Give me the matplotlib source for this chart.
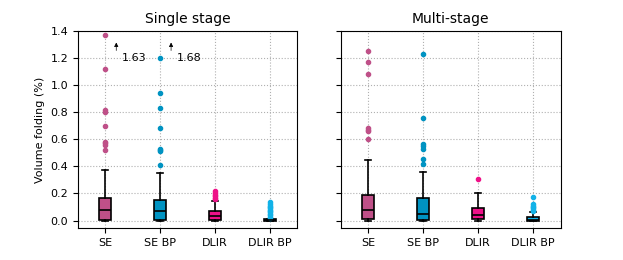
import matplotlib
matplotlib.use("Agg")
import matplotlib.pyplot as plt

methods = ["SE", "SE BP", "DLIR", "DLIR BP"]
colors = ["#bf5088", "#0093c2", "#ee1188", "#12b2e8"]

# box statistics (volume folding, %)
single_q1 = [0.005, 0.005, 0.003, 0.0]
single_med = [0.075, 0.067, 0.032, 0.003]
single_q3 = [0.165, 0.155, 0.068, 0.01]
single_whishi = [0.37, 0.35, 0.148, 0.015]
single_fliers = [
    [1.37, 1.12, 0.82, 0.80, 0.70, 0.58, 0.57, 0.56, 0.52],
    [1.20, 0.94, 0.83, 0.68, 0.53, 0.52, 0.51, 0.41],
    [0.22, 0.20, 0.19, 0.18, 0.17, 0.16],
    [0.135, 0.12, 0.11, 0.10, 0.09, 0.08, 0.07, 0.06, 0.05, 0.04, 0.03, 0.02],
]
single_off = [1.63, 1.68]

multi_q1 = [0.01, 0.005, 0.01, 0.0]
multi_med = [0.075, 0.047, 0.04, 0.005]
multi_q3 = [0.19, 0.17, 0.096, 0.027]
multi_whishi = [0.445, 0.36, 0.2, 0.066]
multi_fliers = [
    [1.25, 1.17, 1.08, 0.68, 0.67, 0.66, 0.60],
    [1.23, 0.755, 0.565, 0.55, 0.53, 0.455, 0.42],
    [0.31],
    [0.175, 0.12, 0.11, 0.10, 0.09, 0.08, 0.07],
]


def make_stats(q1, med, q3, whishi, fliers):
    stats = []
    for i in range(len(methods)):
        stats.append(dict(med=med[i], q1=q1[i], q3=q3[i], whislo=0.0,
                          whishi=whishi[i], fliers=fliers[i], label=methods[i]))
    return stats


fig = plt.figure(figsize=(6.23, 2.6), dpi=100)
ax1 = fig.add_axes([0.125, 0.123, 0.352, 0.758])
ax2 = fig.add_axes([0.547, 0.123, 0.353, 0.758], sharey=ax1)

panels = [
    (ax1, make_stats(single_q1, single_med, single_q3, single_whishi, single_fliers), "Single stage"),
    (ax2, make_stats(multi_q1, multi_med, multi_q3, multi_whishi, multi_fliers), "Multi-stage"),
]

for ax, stats, title in panels:
    bp = ax.bxp(stats, widths=0.22, patch_artist=True,
                medianprops=dict(color="black", linewidth=1.2),
                whiskerprops=dict(color="black", linewidth=1.2),
                capprops=dict(color="black", linewidth=1.2),
                boxprops=dict(edgecolor="black", linewidth=1.2))
    for patch, c in zip(bp["boxes"], colors):
        patch.set_facecolor(c)
    for fl, c in zip(bp["fliers"], colors):
        fl.set(marker="o", markersize=3, markerfacecolor=c, markeredgecolor=c)
    ax.set_title(title, fontsize=10)
    ax.grid(True, linestyle=":", color="#b0b0b0", linewidth=0.8)
    ax.set_axisbelow(True)
    ax.tick_params(labelsize=8)

ax1.set_ylim(-0.055, 1.4)
ax1.set_yticks([0.0, 0.2, 0.4, 0.6, 0.8, 1.0, 1.2, 1.4])
ax1.set_ylabel("Volume folding (%)", fontsize=8)
plt.setp(ax2.get_yticklabels(), visible=False)

# values beyond the axis limit
for i, v in enumerate(single_off):
    ax1.annotate("", xy=(i + 1.2, 1.335), xytext=(i + 1.2, 1.235),
                 arrowprops=dict(arrowstyle="-|>", color="black", linewidth=0.5,
                                 mutation_scale=6))
    ax1.text(i + 1.3, 1.2, f"{v:.2f}", fontsize=8, va="center", ha="left")

fig.savefig("out.png", dpi=100)
